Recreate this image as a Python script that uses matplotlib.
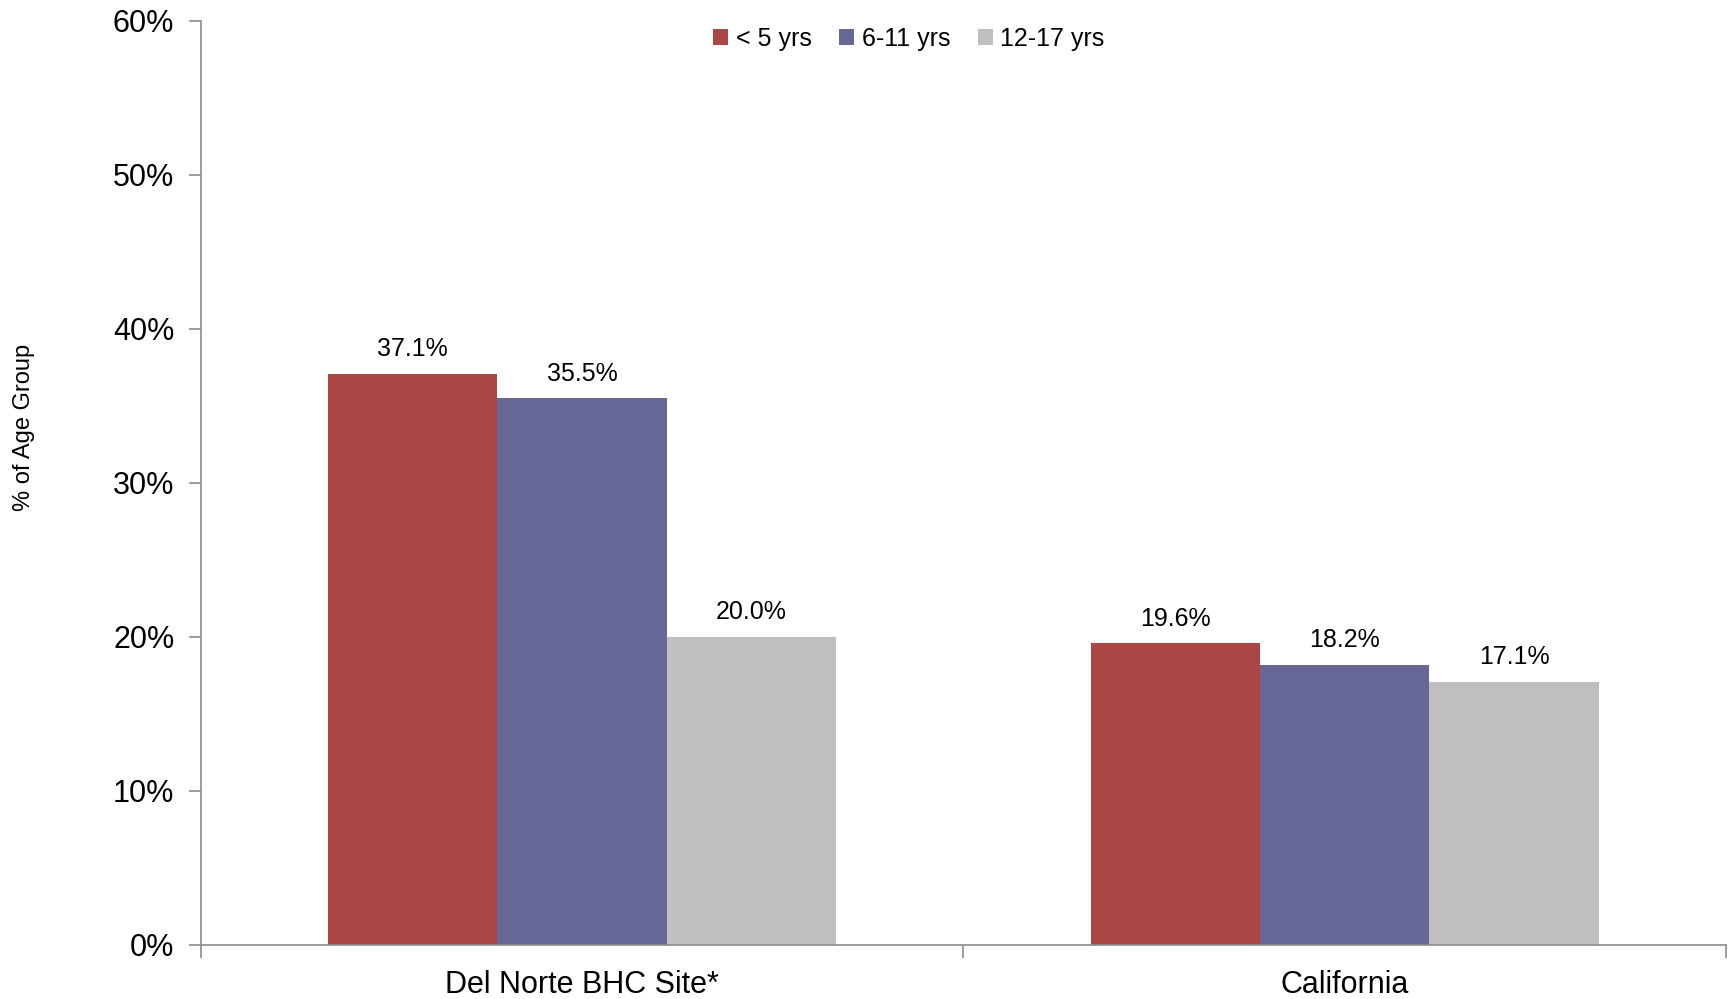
import numpy as np
from matplotlib import pyplot as plt

categories = ["Del Norte BHC Site*", "California"]
age_groups = ["< 5 yrs", "6-11 yrs", "12-17 yrs"]
under5 = [37.1, 19.6]
age6_11 = [35.5, 18.2]
age12_17 = [20.0, 17.1]
y_ticks = [0, 10, 20, 30, 40, 50, 60]

colors = ["#AA4745", "#666697", "#BFBFBF"]
series = [under5, age6_11, age12_17]

plt.rcParams["font.family"] = ["Liberation Sans", "DejaVu Sans"]

fig = plt.figure(figsize=(17.29, 9.99), dpi=100)
ax = fig.add_axes([0.1161, 0.0541, 0.8822, 0.9249])

x = np.arange(len(categories))
width = 1 / 4.5
for i, (vals, col, lab) in enumerate(zip(series, colors, age_groups)):
    pos = x + (i - 1) * width
    bars = ax.bar(pos, vals, width, color=col, label=lab, edgecolor="none")
    for b, v in zip(bars, vals):
        ax.annotate("%.1f%%" % v, (b.get_x() + b.get_width() / 2, v),
                    xytext=(0, 9), textcoords="offset points",
                    ha="center", va="bottom", fontsize=18)

ax.set_xlim(-0.5, 1.5)
ax.set_ylim(0, 60)
ax.set_yticks(y_ticks)
ax.set_yticklabels(["%d%%" % t for t in y_ticks])

# category labels centred, tick marks on the boundaries
ax.set_xticks(x)
ax.set_xticklabels(categories, fontsize=22)
ax.set_xticks([-0.5, 0.5, 1.5], minor=True)
ax.tick_params(axis="x", which="major", length=0, pad=18)
ax.tick_params(axis="x", which="minor", length=9, width=1.2, color="#8C8C8C")
ax.tick_params(axis="y", length=9, width=1.2, color="#8C8C8C", pad=10,
               labelsize=22)

for s in ["top", "right"]:
    ax.spines[s].set_visible(False)
for s in ["left", "bottom"]:
    ax.spines[s].set_color("#8C8C8C")
    ax.spines[s].set_linewidth(1.2)

fig.text(0.014, 0.5726, "% of Age Group", rotation=90, ha="center",
         va="center", fontsize=17)

ax.legend(loc="center", bbox_to_anchor=(909 / 1729, 1 - 38.6 / 999),
          bbox_transform=fig.transFigure, ncol=3, frameon=False,
          fontsize=18, handlelength=0.6, handleheight=0.6,
          handletextpad=0.3, columnspacing=1.1)

plt.savefig("out.png", dpi=100)
